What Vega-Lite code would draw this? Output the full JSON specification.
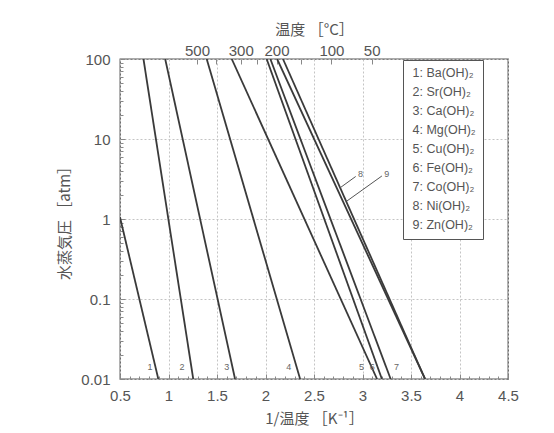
{
  "$schema": "https://vega.github.io/schema/vega-lite/v6.json",
  "width": 388,
  "height": 320,
  "autosize": {"type": "none"},
  "padding": {"left": 120, "top": 59, "right": 46, "bottom": 54},
  "background": "white",
  "config": {
    "view": {"stroke": "#555", "strokeWidth": 1.3},
    "font": "Liberation Sans",
    "axis": {
      "labelColor": "#555",
      "titleColor": "#555",
      "labelFont": "Liberation Sans",
      "labelFontSize": 15,
      "titleFont": "Noto Sans CJK JP",
      "titleFontSize": 15,
      "titleFontWeight": "normal",
      "domain": false,
      "labelFlush": false,
      "labelOverlap": false,
      "tickColor": "#888",
      "gridColor": "#c4c4c4",
      "gridDash": [2, 2]
    }
  },
  "datasets": {
    "lines": [
      {"name": "1: Ba(OH)₂", "x": 0.5, "P": 1.05},
      {"name": "1: Ba(OH)₂", "x": 0.895, "P": 0.01},
      {"name": "2: Sr(OH)₂", "x": 0.742, "P": 100},
      {"name": "2: Sr(OH)₂", "x": 1.255, "P": 0.01},
      {"name": "3: Ca(OH)₂", "x": 0.966, "P": 100},
      {"name": "3: Ca(OH)₂", "x": 1.686, "P": 0.01},
      {"name": "4: Mg(OH)₂", "x": 1.394, "P": 100},
      {"name": "4: Mg(OH)₂", "x": 2.357, "P": 0.01},
      {"name": "5: Cu(OH)₂", "x": 1.652, "P": 100},
      {"name": "5: Cu(OH)₂", "x": 3.15, "P": 0.01},
      {"name": "6: Fe(OH)₂", "x": 2.012, "P": 100},
      {"name": "6: Fe(OH)₂", "x": 3.2, "P": 0.01},
      {"name": "7: Co(OH)₂", "x": 2.05, "P": 100},
      {"name": "7: Co(OH)₂", "x": 3.29, "P": 0.01},
      {"name": "8: Ni(OH)₂", "x": 2.12, "P": 100},
      {"name": "8: Ni(OH)₂", "x": 3.645, "P": 0.01},
      {"name": "9: Zn(OH)₂", "x": 2.18, "P": 100},
      {"name": "9: Zn(OH)₂", "x": 3.645, "P": 0.01}
    ],
    "labels": [
      {"t": "1", "x": 0.81, "P": 0.014},
      {"t": "2", "x": 1.14, "P": 0.014},
      {"t": "3", "x": 1.6, "P": 0.014},
      {"t": "4", "x": 2.24, "P": 0.014},
      {"t": "5", "x": 2.99, "P": 0.014},
      {"t": "6", "x": 3.1, "P": 0.014},
      {"t": "7", "x": 3.35, "P": 0.014},
      {"t": "8", "x": 2.98, "P": 3.7},
      {"t": "9", "x": 3.25, "P": 3.7}
    ],
    "leaders": [
      {"x": 2.77, "y": 2.46, "x2": 2.93, "y2": 3.4},
      {"x": 2.84, "y": 1.68, "x2": 3.2, "y2": 3.45}
    ]
  },
  "layer": [
    {
      "data": {"name": "lines"},
      "mark": {"type": "line", "color": "#3a3a3a", "strokeWidth": 1.8, "clip": true},
      "encoding": {
        "x": {
          "field": "x", "type": "quantitative",
          "scale": {"domain": [0.5, 4.5], "nice": false, "zero": false},
          "axis": {
            "orient": "bottom",
            "values": [0.5, 1, 1.5, 2, 2.5, 3, 3.5, 4, 4.5],
            "format": "~g",
            "title": "1/温度 ［K⁻¹］",
            "tickSize": -5,
            "labelPadding": 14,
            "titlePadding": 8,
            "grid": true
          }
        },
        "y": {
          "field": "P", "type": "quantitative",
          "scale": {"type": "log", "domain": [0.01, 100], "nice": false},
          "axis": {
            "orient": "left",
            "values": [0.01, 0.1, 1, 10, 100],
            "format": "~g",
            "title": "水蒸気圧 ［atm］",
            "tickSize": -5,
            "labelPadding": 15,
            "titlePadding": 8,
            "grid": true
          }
        },
        "color": {
          "field": "name", "type": "nominal",
          "scale": {"range": ["#3a3a3a"]},
          "legend": {
            "title": null,
            "orient": "none",
            "legendX": 283,
            "legendY": 1,
            "strokeColor": "#555",
            "fillColor": "white",
            "padding": 7,
            "symbolOpacity": 0,
            "symbolSize": 0,
            "symbolStrokeWidth": 0,
            "labelOffset": -10,
            "labelFont": "Liberation Sans",
            "labelFontSize": 12.5,
            "labelColor": "#555",
            "rowPadding": 6
          }
        }
      }
    },
    {
      "data": {"name": "labels"},
      "mark": {"type": "text", "fontSize": 9, "color": "#666", "font": "Liberation Sans"},
      "encoding": {
        "x": {
          "field": "x", "type": "quantitative",
          "scale": {"domain": [0.5, 4.5], "nice": false, "zero": false},
          "axis": {
            "orient": "top",
            "values": [1.2934, 1.4856, 1.7447, 1.9115, 2.1135, 2.3632, 2.6799, 3.0945, 3.661],
            "labelExpr": "indexof([500, 300, 200, 100, 50], round(1000 / datum.value - 273.15)) >= 0 ? '' + round(1000 / datum.value - 273.15) : ''",
            "title": "温度 ［°C］",
            "tickSize": -5,
            "labelPadding": 6,
            "titlePadding": 6,
            "grid": false
          }
        },
        "y": {
          "field": "P", "type": "quantitative",
          "scale": {"type": "log", "domain": [0.01, 100], "nice": false},
          "axis": null
        },
        "text": {"field": "t"}
      }
    },
    {
      "data": {"name": "leaders"},
      "mark": {"type": "rule", "color": "#555", "strokeWidth": 1},
      "encoding": {
        "x": {
          "field": "x", "type": "quantitative",
          "scale": {"domain": [0.5, 4.5], "nice": false, "zero": false},
          "axis": {
            "orient": "bottom",
            "values": [0.6, 0.7, 0.8, 0.9, 1.1, 1.2, 1.3, 1.4, 1.6, 1.7, 1.8, 1.9, 2.1, 2.2, 2.3, 2.4, 2.6, 2.7, 2.8, 2.9, 3.1, 3.2, 3.3, 3.4, 3.6, 3.7, 3.8, 3.9, 4.1, 4.2, 4.3, 4.4],
            "labels": false,
            "title": null,
            "tickSize": -3,
            "grid": false
          }
        },
        "y": {
          "field": "y", "type": "quantitative",
          "scale": {"type": "log", "domain": [0.01, 100], "nice": false},
          "axis": {
            "orient": "left",
            "values": [0.02, 0.03, 0.04, 0.05, 0.06, 0.07, 0.08, 0.09, 0.2, 0.3, 0.4, 0.5, 0.6, 0.7, 0.8, 0.9, 2, 3, 4, 5, 6, 7, 8, 9, 20, 30, 40, 50, 60, 70, 80, 90],
            "labels": false,
            "title": null,
            "tickSize": -3,
            "grid": false
          }
        },
        "x2": {"field": "x2"},
        "y2": {"field": "y2"}
      }
    }
  ],
  "resolve": {"axis": {"x": "independent", "y": "independent"}}
}
